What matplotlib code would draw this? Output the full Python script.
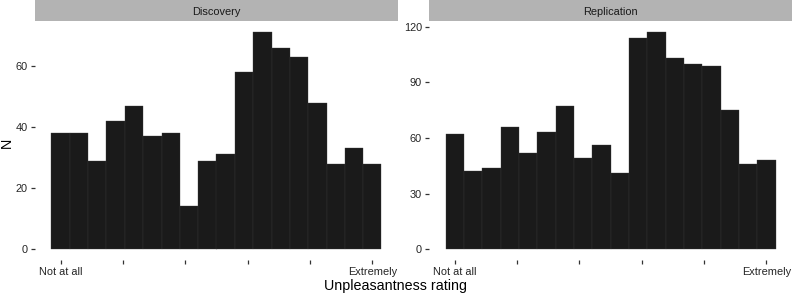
import matplotlib.pyplot as plt
import numpy as np

plt.rcParams["font.family"] = ["Liberation Sans", "DejaVu Sans"]

PANELS = ["Discovery", "Replication"]
DISCOVERY_N = [38, 38, 29, 42, 47, 37, 38, 14, 29, 31, 58, 71, 66, 63, 48, 28, 33, 28]
REPLICATION_N = [62, 42, 44, 66, 52, 63, 77, 49, 56, 41, 114, 117, 103, 100, 99, 75, 46, 48]
X_TICKS = [0, 20, 40, 60, 80, 100]
X_TICK_LABELS = ["Not at all", "", "", "", "", "Extremely"]
Y_TICKS = {"Discovery": [0, 20, 40, 60], "Replication": [0, 30, 60, 90, 120]}

BAR_FILL = "#1a1a1a"
STRIP_FILL = "#b3b3b3"
TEXT_COL = "#262626"


def expand(lo, hi, mult=0.05):
    span = hi - lo
    return lo - span * mult, hi + span * mult


def draw_panel(fig, rect, title, counts):
    left, bottom, width, height = rect
    ax = fig.add_axes([left, bottom, width, height])
    n_bins = len(counts)
    binwidth = 100 / (n_bins - 1)
    centers = np.linspace(0, 100, n_bins)
    ax.bar(centers, counts, width=binwidth, color=BAR_FILL,
           edgecolor="#3a3a3a", linewidth=0.25)
    ax.set_xlim(*expand(-binwidth / 2, 100 + binwidth / 2))
    ax.set_ylim(*expand(0, max(counts)))
    ax.set_xticks(X_TICKS)
    ax.set_xticklabels(X_TICK_LABELS)
    ax.set_yticks(Y_TICKS[title])
    for side in ax.spines.values():
        side.set_visible(False)
    ax.tick_params(axis="both", length=3, width=0.9, color="#333333",
                   labelsize=7.9, labelcolor=TEXT_COL, pad=2)

    strip = fig.add_axes([left, bottom + height + 0.002, width, 1 - bottom - height - 0.002])
    strip.set_facecolor(STRIP_FILL)
    strip.set_xticks([])
    strip.set_yticks([])
    for side in strip.spines.values():
        side.set_visible(False)
    strip.text(0.5, 0.45, title, ha="center", va="center", fontsize=7.9,
               color="#1a1a1a", transform=strip.transAxes)
    return ax


fig = plt.figure(figsize=(7.93, 2.94), dpi=100)
bottom = 34 / 294
height = (260 - 21.5) / 294
draw_panel(fig, [35 / 793, bottom, 363 / 793, height], PANELS[0], DISCOVERY_N)
draw_panel(fig, [429 / 793, bottom, 363 / 793, height], PANELS[1], REPLICATION_N)

fig.text(7 / 793, 1 - 143 / 294, "N", rotation=90, ha="center", va="center",
         fontsize=10.3, color="black")
fig.text(396 / 793, 1 - 286 / 294, "Unpleasantness rating", ha="center", va="center",
         fontsize=10.3, color="black")

fig.savefig("out.png", dpi=100)
